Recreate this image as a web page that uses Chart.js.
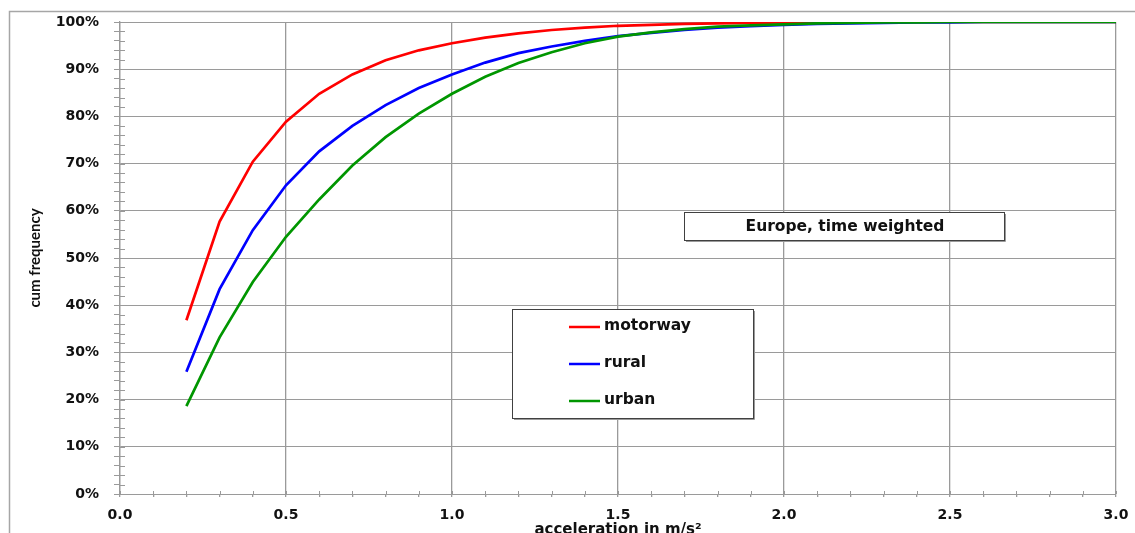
<!DOCTYPE html>
<html>
<head>
<meta charset="utf-8">
<script src="https://cdn.jsdelivr.net/npm/chart.js@4.4.1/dist/chart.umd.min.js"></script>
<style>
html,body{margin:0;padding:0;background:#fff;}
#wrap{width:1135px;height:533px;position:relative;}
</style>
</head>
<body>
<div id="wrap"><canvas id="c" width="1135" height="533"></canvas></div>
<script>
// ---- data ----
const accel = [0.2,0.3,0.4,0.5,0.6,0.7,0.8,0.9,1.0,1.1,1.2,1.3,1.4,1.5,1.6,1.7,1.8,1.9,2.0,2.1,2.2,2.3,2.4,2.5,2.6,2.7,2.8,2.9,3.0];
const motorway = [36.8,57.7,70.4,78.9,84.8,88.9,91.9,94.0,95.5,96.7,97.6,98.3,98.8,99.2,99.4,99.6,99.7,99.8,99.9,99.95,100,100,100,100,100,100,100,100,100];
const rural    = [25.9,43.4,55.9,65.4,72.6,78.0,82.4,86.0,88.9,91.4,93.4,94.8,96.0,97.0,97.7,98.3,98.8,99.1,99.4,99.6,99.7,99.8,99.9,99.9,100,100,100,100,100];
const urban    = [18.6,33.2,44.9,54.5,62.4,69.6,75.6,80.6,84.8,88.4,91.3,93.6,95.5,96.9,97.8,98.5,99.0,99.3,99.5,99.7,99.8,99.9,99.9,100,100,100,100,100,100];
const seriesNames = ['motorway','rural','urban'];
const seriesColors = ['#ff0000','#0000ff','#009600'];
const xTickLabels = ['0.0','0.5','1.0','1.5','2.0','2.5','3.0'];
const yTickLabels = ['0%','10%','20%','30%','40%','50%','60%','70%','80%','90%','100%'];
const annotationText = 'Europe, time weighted';
const xTitle = 'acceleration in m/s\u00b2';
const yTitle = 'cum frequency';

const toPts = arr => accel.map((x,i)=>({x:x,y:arr[i]}));
const allSeries = [motorway, rural, urban];

const GRID = '#9a9a9a';

const decor = {
  id:'decor',
  afterDraw(chart){
    const ctx = chart.ctx;
    const xs = chart.scales.x, ys = chart.scales.y;
    const ca = chart.chartArea;
    ctx.save();
    // outer frame
    ctx.strokeStyle = '#a6a6a6';
    ctx.lineWidth = 1.5;
    ctx.beginPath();
    ctx.moveTo(9.5, 533); ctx.lineTo(9.5, 11.5); ctx.lineTo(1135, 11.5);
    ctx.stroke();
    // inner halves of tick marks (crossing ticks)
    ctx.strokeStyle = GRID;
    ctx.lineWidth = 1;
    ctx.beginPath();
    ys.ticks.forEach(t=>{
      const y = Math.round(ys.getPixelForValue(t.value))+0.5;
      ctx.moveTo(ca.left, y); ctx.lineTo(ca.left+5, y);
    });
    xs.ticks.forEach(t=>{
      const x = Math.round(xs.getPixelForValue(t.value))+0.5;
      ctx.moveTo(x, ca.bottom); ctx.lineTo(x, ca.bottom-3);
    });
    ctx.stroke();

    // annotation box
    ctx.fillStyle = '#fff';
    ctx.fillRect(684, 212, 321, 29);
    ctx.strokeStyle = '#9a9a9a';
    ctx.lineWidth = 1;
    ctx.beginPath();
    ctx.moveTo(686, 241.5); ctx.lineTo(1005.5, 241.5); ctx.lineTo(1005.5, 214);
    ctx.stroke();
    ctx.strokeStyle = '#404040';
    ctx.strokeRect(684.5, 212.5, 320, 28);
    ctx.fillStyle = '#111';
    ctx.font = 'bold 15.5px "DejaVu Sans"';
    ctx.textAlign = 'center';
    ctx.textBaseline = 'middle';
    ctx.fillText(annotationText, 845, 227);

    // legend box
    ctx.fillStyle = '#fff';
    ctx.fillRect(512, 309, 242, 110);
    ctx.strokeStyle = '#9a9a9a';
    ctx.beginPath();
    ctx.moveTo(514, 419.5); ctx.lineTo(754.5, 419.5); ctx.lineTo(754.5, 311);
    ctx.stroke();
    ctx.strokeStyle = '#404040';
    ctx.strokeRect(512.5, 309.5, 241, 109);
    const rowY = [327, 364, 401];
    ctx.font = 'bold 15.5px "DejaVu Sans"';
    ctx.textAlign = 'left';
    ctx.textBaseline = 'middle';
    chart.data.datasets.forEach((ds,i)=>{
      ctx.strokeStyle = ds.borderColor;
      ctx.lineWidth = 2.5;
      ctx.beginPath();
      ctx.moveTo(569, rowY[i]); ctx.lineTo(600, rowY[i]);
      ctx.stroke();
      ctx.fillStyle = '#111';
      ctx.fillText(ds.label, 604, rowY[i]-1);
    });
    ctx.restore();
  }
};

new Chart(document.getElementById('c'), {
  type:'line',
  data:{
    datasets: seriesNames.map((n,i)=>({
      label:n,
      data:toPts(allSeries[i]),
      borderColor:seriesColors[i],
      backgroundColor:seriesColors[i],
      borderWidth:2.7,
      pointRadius:0,
      tension:0,
      fill:false,
      order:3-i
    }))
  },
  options:{
    responsive:false,
    animation:false,
    devicePixelRatio:1,
    layout:{padding:{top:22,right:19,left:0,bottom:0}},
    plugins:{legend:{display:false},tooltip:{enabled:false}},
    scales:{
      x:{
        type:'linear', min:0, max:3,
        afterFit(s){ s.height = 39; s.paddingLeft = 0; s.paddingRight = 0; },
        afterBuildTicks(s){
          const t=[]; for(let k=0;k<=30;k++) t.push({value:k/10});
          s.ticks = t;
        },
        ticks:{
          autoSkip:false, maxRotation:0, padding:10, color:'#111',
          font:{family:'DejaVu Sans', weight:'bold', size:14},
          callback(v){ const k=Math.round(v*10); return k%5===0 ? xTickLabels[k/5] : ''; }
        },
        grid:{
          color(c){ const k=Math.round(c.tick.value*10); return k%5===0 ? GRID : 'rgba(0,0,0,0)'; },
          tickColor:GRID, tickLength:3, lineWidth:1.3
        },
        border:{color:GRID, width:1},
        title:{display:true, text:xTitle, color:'#111',
          font:{family:'DejaVu Sans', weight:'bold', size:15}, padding:{top:0,bottom:-6}}
      },
      y:{
        type:'linear', min:0, max:100,
        afterFit(s){ s.width = 120; s.paddingTop = 0; s.paddingBottom = 0; },
        afterBuildTicks(s){
          const t=[]; for(let k=0;k<=50;k++) t.push({value:k*2});
          s.ticks = t;
        },
        ticks:{
          autoSkip:false, padding:15, color:'#111',
          font:{family:'DejaVu Sans', weight:'bold', size:14},
          callback(v){ return Math.round(v)%10===0 ? yTickLabels[Math.round(v)/10] : ''; }
        },
        grid:{
          color(c){ return Math.round(c.tick.value)%10===0 ? GRID : 'rgba(0,0,0,0)'; },
          tickColor:GRID, tickLength:6, lineWidth:1
        },
        border:{color:GRID, width:1.3},
        title:{display:true, text:yTitle, color:'#111',
          font:{family:'Lato', weight:'bold', size:15}, padding:{top:26,bottom:0}}
      }
    }
  },
  plugins:[decor]
});
</script>
</body>
</html>
